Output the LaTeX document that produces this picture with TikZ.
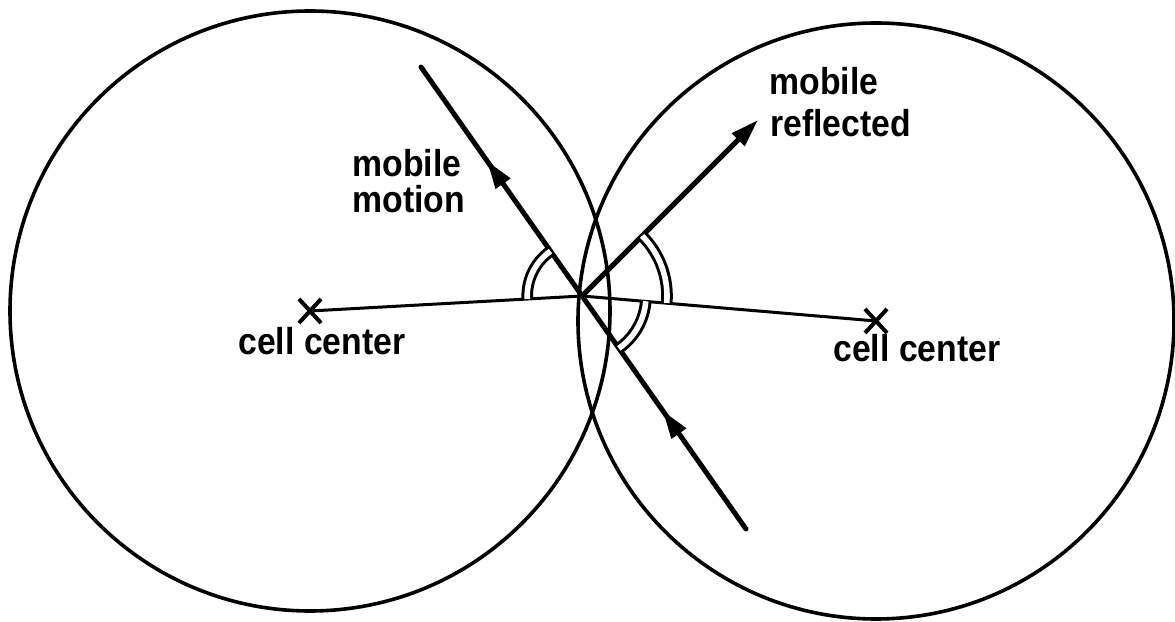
\documentclass[tikz,border=0pt]{standalone}
\usepackage{fontspec}
\newfontfamily\labfont{Liberation Sans Bold}[FakeStretch=0.9]
\usetikzlibrary{arrows.meta,decorations.markings,shapes.misc}
\begin{document}
\begin{tikzpicture}[x=0.5pt,y=0.5pt,
  cellline/.style={line width=1.8pt},
  thickline/.style={line width=2.5pt, line cap=round},
  centerline/.style={line width=1.5pt},
  anglearc/.style={line width=1.5pt, double, double distance=2.8pt},
  lab/.style={inner sep=0pt, anchor=base west, font=\labfont\fontsize{18.75}{22}\selectfont},
  xmark/.style={draw, cross out, line width=2pt, inner sep=0pt, minimum width=9pt, minimum height=10pt}
]
\useasboundingbox (0,0) rectangle (1175,622);
\coordinate (c1) at (310,311);
\coordinate (c2) at (876,301);
\coordinate (p) at (582,326);
\coordinate (mstart) at (746,93);
\coordinate (mend) at (421,555);
\coordinate (rend) at (758,502);

\draw[cellline] (c1) circle[radius=300];
\draw[cellline] (c2) circle[radius=298];

\draw[centerline] (c1) -- (p) -- (c2);
\node[xmark] (x1) at (c1) {};
\node[xmark] (x2) at (c2) {};

\draw[thickline, postaction={decorate}, decoration={markings,
  mark=at position 0.256 with {\arrow{Triangle[length=14pt,width=8.5pt]}},
  mark=at position 0.797 with {\arrow{Triangle[length=14pt,width=8.5pt]}}}]
  (mstart) -- (mend);
\draw[thickline, -{Triangle[length=14pt,width=8.5pt]}] (p) -- (rend);

\draw[anglearc] ([shift={(183.2:54.8)}]p) arc[start angle=183.2, end angle=125.1, radius=54.8];
\draw[anglearc] ([shift={(-4.67:85)}]p) arc[start angle=-4.67, end angle=45, radius=85];
\draw[anglearc] ([shift={(-54.9:64)}]p) arc[start angle=-54.9, end angle=-4.67, radius=64];

\node[lab] (mm1) at (352,445) {mobile};
\node[lab] (mm2) at (352,409) {motion};
\node[lab] (mr1) at (769,527) {mobile};
\node[lab] (mr2) at (770,485) {reflected};
\node[lab] (cc1) at (238,267) {cell center};
\node[lab] (cc2) at (833,260) {cell center};
\end{tikzpicture}
\end{document}
